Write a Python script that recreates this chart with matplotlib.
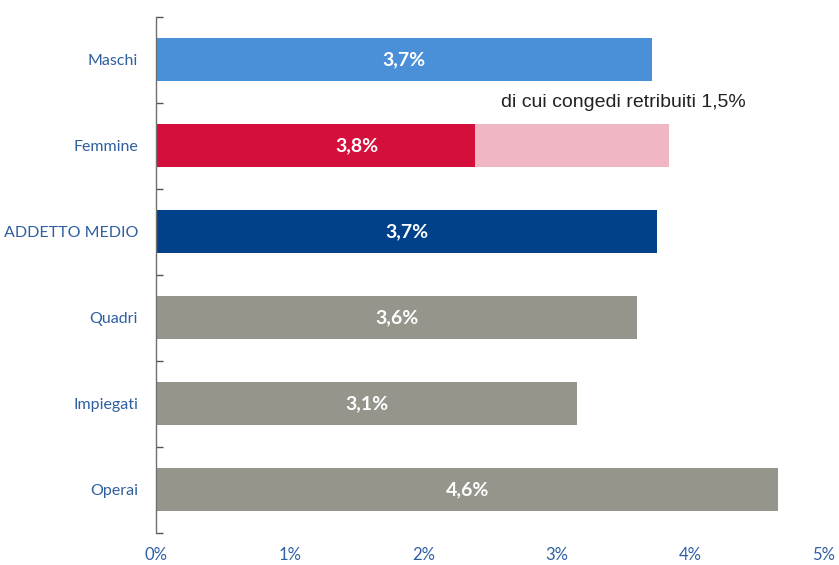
import matplotlib.pyplot as plt
import numpy as np

categories = ['Maschi', 'Femmine', 'ADDETTO MEDIO', 'Quadri', 'Impiegati', 'Operai']
values = [3.71, 3.84, 3.75, 3.60, 3.15, 4.66]
labels = ['3,7%', '3,8%', '3,7%', '3,6%', '3,1%', '4,6%']
colors = ['#4a90d9', '#f0b6c4', '#00418a', '#96958c', '#96958c', '#96958c']
femmine_base = 2.39  # parte non retribuita, quota scura
congedi_note = 'di cui congedi retribuiti 1,5%'

tick_blue = '#2e5fa0'

fig = plt.figure(figsize=(8.39, 5.65), dpi=100)
ax = fig.add_axes([0.186, 0.057, 0.796, 0.913])

y = np.arange(len(categories))
ax.barh(y, values, height=0.5, color=colors)
ax.barh(1, femmine_base, height=0.5, color='#d50f3c')

for i, (v, lab) in enumerate(zip(values, labels)):
    xpos = v / 2
    if categories[i] == 'Femmine':
        xpos = 1.5
    ax.text(xpos, i, lab, ha='center', va='center', color='white',
            fontsize=14, fontweight='bold', family='Lato')

ax.text(2.58, 0.49, congedi_note, ha='left', va='center', color='#222222',
        fontsize=14, family='Liberation Sans')

ax.set_xlim(0, 5)
ax.set_ylim(len(categories) - 0.5, -0.5)
ax.set_xticks(np.arange(0, 6))
ax.set_xticklabels([f'{i}%' for i in range(6)], color=tick_blue,
                   fontsize=12, family='Lato')
ax.set_yticks(y)
ax.set_yticklabels(categories, color=tick_blue, fontsize=11.5, family='Lato')
ax.set_yticks(np.arange(-0.5, len(categories)), minor=True)
ax.tick_params(axis='y', which='major', length=0, pad=13)
ax.tick_params(axis='y', which='minor', direction='in', length=5,
               color='#555555', width=1)
ax.tick_params(axis='x', length=0, pad=10)

for s in ['top', 'right', 'bottom']:
    ax.spines[s].set_visible(False)
ax.spines['left'].set_color('#707070')
ax.spines['left'].set_linewidth(1)

fig.savefig('out.png', dpi=100)
